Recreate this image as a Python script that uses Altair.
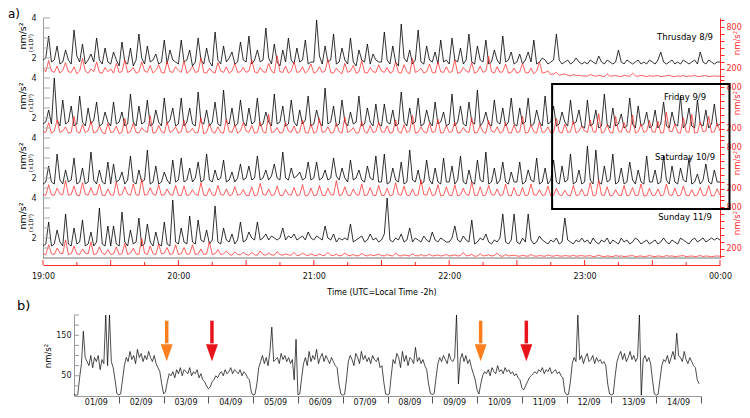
import altair as alt
import pandas as pd

FONT = "DejaVu Sans"

# ---------------- panel a : 1.25-minute samples, 19:00 -> 00:00 ----------------
thu_black = [
    1.9, 2.0, 3.1, 1.8, 1.9, 2.6, 1.7, 1.8, 2.4, 1.9, 1.7, 3.4, 2.1, 1.8, 2.7, 1.7, 1.9, 2.2, 1.8, 3.0, 1.9, 1.7, 2.5, 1.8,
    1.7, 2.3, 1.9, 1.6, 2.8, 1.8, 1.7, 2.5, 1.6, 1.9, 3.2, 2.0, 1.7, 2.6, 1.8, 1.9, 2.2, 1.7, 1.8, 2.9, 1.7, 2.4, 1.9, 1.8,
    1.7, 2.9, 1.8, 1.9, 2.4, 1.6, 1.8, 3.0, 1.9, 1.7, 2.5, 1.8, 1.6, 3.3, 1.9, 1.7, 2.6, 1.8, 2.0, 2.3, 1.7, 1.8, 2.8, 1.9,
    1.8, 3.1, 1.7, 1.9, 2.4, 1.8, 1.9, 3.5, 2.0, 1.7, 2.7, 1.8, 1.6, 2.4, 1.8, 3.0, 1.9, 1.7, 2.5, 1.8, 1.9, 2.9, 1.7, 1.8,
    1.8, 3.9, 2.1, 1.7, 2.6, 1.8, 1.9, 3.2, 1.7, 1.8, 2.5, 1.9, 1.7, 3.0, 1.8, 1.6, 2.4, 1.9, 1.8, 2.7, 1.7, 2.2, 1.9, 1.8,
    1.8, 3.3, 1.9, 1.7, 2.6, 1.8, 1.6, 3.7, 2.0, 1.8, 2.4, 1.7, 1.9, 3.4, 1.8, 1.7, 2.6, 1.9, 1.8, 2.3, 1.7, 2.9, 1.8, 1.9,
    1.7, 3.0, 1.9, 1.8, 2.5, 1.7, 1.9, 3.2, 1.8, 1.7, 2.6, 1.9, 1.8, 2.9, 1.7, 1.8, 2.4, 1.9, 1.7, 3.1, 1.8, 1.9, 2.3, 1.7,
    1.8, 2.2, 1.7, 1.9, 2.3, 1.8, 2.9, 1.7, 1.8, 2.0, 1.9, 1.7, 1.8, 1.9, 3.2, 1.9, 1.7, 1.8, 1.9, 1.7, 1.8, 2.0, 1.8, 1.7,
    1.8, 1.7, 1.9, 1.8, 1.7, 2.1, 1.8, 1.7, 1.9, 1.8, 1.7, 1.8, 2.4, 1.8, 1.7, 1.9, 1.8, 1.7, 1.8, 1.9, 1.7, 1.8, 1.7, 1.9,
    1.8, 1.7, 1.9, 2.3, 1.8, 1.7, 1.8, 1.9, 1.7, 1.8, 1.7, 1.9, 1.8, 1.7, 1.8, 1.9, 1.7, 2.3, 1.8, 1.7, 1.9, 1.8, 1.7, 1.8,
    1.8]
thu_red = [
    210, 160, 320, 170, 150, 240, 140, 180, 290, 160, 150, 230, 130, 170, 350, 170, 140, 200, 160, 300, 150, 140, 220, 160,
    200, 140, 280, 150, 160, 330, 150, 170, 220, 140, 160, 300, 170, 150, 250, 140, 180, 260, 150, 140, 310, 160, 150, 230,
    180, 150, 310, 140, 170, 240, 150, 160, 360, 150, 140, 210, 160, 140, 290, 170, 150, 230, 140, 170, 280, 150, 160, 220,
    150, 170, 330, 160, 140, 220, 160, 150, 280, 170, 140, 390, 160, 150, 240, 140, 170, 300, 150, 160, 230, 140, 180, 270,
    140, 160, 230, 150, 170, 340, 150, 140, 210, 160, 130, 280, 150, 170, 250, 140, 160, 320, 150, 140, 220, 160, 150, 260,
    170, 150, 220, 140, 160, 300, 150, 140, 260, 160, 130, 350, 150, 170, 210, 140, 160, 270, 150, 140, 300, 160, 150, 230,
    150, 160, 330, 140, 150, 220, 170, 150, 290, 140, 160, 240, 150, 170, 380, 160, 140, 230, 150, 160, 270, 140, 150, 210,
    140, 160, 280, 150, 140, 210, 130, 170, 300, 140, 150, 170, 120, 130, 150, 110, 120, 130, 110, 100, 120, 105, 110, 100,
    100, 95, 120, 105, 95, 110, 100, 90, 130, 95, 100, 105, 95, 90, 110, 100, 95, 140, 100, 95, 110, 100, 90, 105,
    95, 100, 105, 90, 95, 100, 110, 95, 90, 100, 95, 105, 90, 100, 95, 110, 90, 95, 100, 105, 90, 95, 100, 95,
    95]

fri_black = [
    1.7, 1.8, 2.4, 1.7, 4.0, 1.9, 1.6, 2.9, 1.7, 1.8, 2.6, 1.6, 1.7, 3.1, 1.8, 1.6, 2.5, 1.7, 1.9, 2.8, 1.6, 1.7, 2.3, 1.8,
    1.6, 2.8, 1.7, 1.8, 2.3, 1.6, 1.7, 3.2, 1.8, 1.6, 2.6, 1.7, 1.8, 2.9, 1.6, 1.7, 2.4, 1.8, 1.6, 3.0, 1.7, 1.9, 2.5, 1.6,
    1.7, 3.0, 1.6, 1.8, 2.5, 1.7, 1.6, 3.3, 1.8, 1.7, 2.4, 1.6, 1.8, 2.8, 1.7, 1.6, 3.4, 1.8, 1.7, 2.5, 1.6, 1.7, 2.9, 1.8,
    1.6, 2.5, 1.7, 1.8, 3.0, 1.6, 1.7, 2.3, 1.8, 1.6, 3.2, 1.7, 1.8, 2.6, 1.6, 1.7, 2.9, 1.8, 1.6, 2.4, 1.7, 1.9, 3.1, 1.6,
    1.7, 2.4, 1.8, 1.6, 3.5, 1.7, 1.8, 2.6, 1.6, 1.7, 2.9, 1.8, 1.6, 2.3, 1.7, 1.8, 3.1, 1.6, 1.7, 2.5, 1.8, 1.6, 2.7, 1.7,
    1.6, 2.7, 1.8, 1.7, 2.4, 1.6, 1.7, 3.3, 1.8, 1.6, 2.5, 1.7, 1.8, 3.0, 1.6, 1.7, 2.4, 1.8, 1.6, 2.8, 1.7, 1.8, 2.3, 1.6,
    1.7, 3.2, 1.6, 1.8, 2.6, 1.7, 1.6, 2.8, 1.8, 1.7, 3.4, 1.6, 1.8, 2.3, 1.7, 1.6, 2.9, 1.8, 1.7, 2.5, 1.6, 1.8, 3.0, 1.7,
    1.6, 2.5, 1.7, 1.8, 3.0, 1.6, 1.7, 2.4, 1.8, 1.6, 3.1, 1.7, 1.8, 2.6, 1.6, 1.7, 2.3, 1.8, 1.6, 2.9, 1.7, 1.8, 2.4, 1.6,
    1.5, 2.9, 1.6, 1.7, 2.4, 1.5, 1.6, 3.2, 1.7, 1.5, 2.5, 1.6, 1.7, 2.2, 1.5, 1.6, 3.0, 1.7, 1.5, 2.6, 1.6, 1.7, 2.3, 1.5,
    1.6, 2.4, 1.5, 1.7, 2.8, 1.6, 1.5, 2.3, 1.7, 1.6, 3.1, 1.5, 1.7, 2.5, 1.6, 1.5, 2.9, 1.7, 1.6, 2.4, 1.5, 1.7, 2.7, 1.6,
    1.7]
fri_red = [
    160, 150, 290, 140, 170, 330, 150, 170, 230, 140, 150, 380, 160, 140, 260, 150, 170, 310, 140, 160, 240, 150, 130, 280,
    150, 160, 240, 130, 150, 350, 140, 160, 280, 150, 140, 220, 170, 150, 390, 140, 150, 250, 160, 140, 300, 150, 170, 230,
    140, 160, 320, 150, 160, 210, 140, 150, 360, 130, 150, 270, 160, 140, 230, 150, 140, 340, 160, 150, 260, 140, 170, 290,
    170, 150, 250, 140, 150, 300, 160, 140, 410, 150, 160, 220, 140, 150, 290, 170, 150, 240, 140, 160, 330, 150, 140, 270,
    140, 160, 350, 150, 160, 230, 140, 150, 280, 160, 140, 370, 150, 170, 220, 140, 150, 310, 160, 140, 250, 150, 160, 300,
    160, 150, 240, 140, 150, 330, 160, 140, 260, 150, 170, 390, 140, 150, 230, 160, 140, 280, 150, 160, 340, 140, 150, 250,
    150, 160, 300, 140, 150, 220, 160, 150, 360, 140, 150, 250, 160, 140, 320, 170, 150, 230, 140, 160, 290, 150, 140, 260,
    150, 160, 380, 140, 150, 260, 160, 140, 300, 150, 160, 230, 140, 150, 350, 160, 140, 270, 150, 160, 310, 140, 170, 240,
    170, 150, 330, 160, 150, 420, 140, 160, 260, 150, 140, 380, 170, 150, 290, 160, 150, 400, 140, 160, 270, 150, 170, 320,
    160, 150, 310, 140, 150, 440, 170, 160, 270, 150, 140, 360, 160, 150, 410, 140, 150, 300, 160, 170, 380, 150, 160, 280,
    170]

sat_black = [
    1.7, 1.8, 2.6, 1.8, 1.7, 3.2, 1.9, 1.7, 2.4, 1.8, 1.9, 3.0, 1.7, 1.8, 2.5, 1.7, 1.8, 3.3, 1.9, 1.7, 2.4, 1.8, 1.7, 2.8,
    1.7, 2.7, 1.8, 1.9, 2.3, 1.7, 1.9, 3.1, 1.8, 1.7, 2.4, 1.8, 1.9, 3.4, 1.7, 1.8, 2.6, 1.7, 1.8, 2.3, 1.9, 1.7, 2.9, 1.8,
    1.9, 3.0, 1.8, 1.9, 2.5, 1.8, 2.0, 2.8, 1.8, 1.9, 3.2, 1.9, 1.8, 2.4, 1.9, 2.0, 2.9, 1.8, 1.9, 2.3, 1.8, 2.0, 2.7, 1.9,
    2.0, 2.6, 1.9, 2.0, 3.1, 1.9, 2.0, 2.4, 1.9, 2.1, 2.7, 2.0, 1.9, 3.3, 2.0, 1.9, 2.5, 2.0, 2.1, 2.3, 1.9, 2.0, 2.8, 1.9,
    2.0, 2.8, 1.9, 2.0, 2.4, 1.9, 2.0, 3.0, 2.1, 1.9, 2.5, 2.0, 1.8, 2.9, 1.9, 2.0, 2.4, 1.9, 1.8, 2.6, 2.0, 1.9, 3.1, 1.8,
    1.8, 3.2, 1.7, 1.8, 2.5, 1.9, 1.8, 2.8, 1.7, 1.8, 3.4, 1.9, 1.8, 2.4, 1.7, 1.8, 2.9, 1.9, 1.7, 2.5, 1.8, 1.7, 3.0, 1.8,
    1.8, 2.6, 1.7, 1.9, 3.1, 1.8, 1.7, 2.4, 1.8, 1.7, 2.9, 1.9, 1.8, 3.3, 1.7, 1.8, 2.5, 1.7, 1.9, 2.8, 1.8, 1.7, 2.3, 1.8,
    1.8, 2.8, 1.7, 1.8, 2.4, 1.9, 1.8, 3.0, 1.7, 1.8, 2.5, 1.7, 1.9, 2.9, 1.8, 1.7, 2.6, 1.8, 1.9, 3.2, 1.7, 1.8, 2.4, 1.7,
    1.8, 3.6, 1.9, 1.7, 3.4, 1.8, 1.7, 2.6, 1.8, 1.9, 3.2, 1.7, 1.8, 2.5, 1.7, 1.8, 2.8, 1.9, 1.7, 2.4, 1.8, 1.7, 3.1, 1.8,
    1.8, 2.4, 1.7, 1.8, 3.1, 1.9, 1.7, 2.6, 1.8, 1.7, 2.5, 1.9, 1.8, 3.0, 1.7, 1.8, 2.2, 1.7, 1.9, 2.7, 1.8, 1.7, 2.4, 1.8,
    1.8]
sat_red = [
    120, 110, 260, 115, 110, 210, 130, 115, 320, 110, 120, 240, 110, 105, 290, 125, 110, 220, 115, 120, 270, 110, 105, 200,
    115, 110, 300, 110, 120, 230, 125, 110, 270, 115, 110, 340, 110, 120, 220, 125, 110, 260, 110, 115, 200, 120, 110, 250,
    110, 105, 240, 105, 115, 190, 120, 110, 290, 110, 105, 210, 115, 105, 250, 120, 110, 200, 105, 115, 230, 110, 120, 190,
    110, 105, 230, 100, 115, 280, 120, 110, 200, 105, 115, 240, 110, 105, 190, 120, 110, 220, 105, 115, 260, 100, 110, 210,
    105, 110, 250, 110, 105, 210, 120, 110, 320, 105, 115, 230, 110, 105, 200, 120, 110, 270, 105, 115, 220, 110, 105, 250,
    110, 105, 210, 100, 115, 290, 120, 110, 240, 110, 105, 200, 105, 115, 330, 120, 110, 220, 105, 115, 260, 100, 110, 230,
    110, 105, 260, 100, 115, 210, 120, 110, 300, 110, 105, 230, 100, 115, 250, 120, 110, 200, 105, 115, 270, 110, 100, 220,
    110, 105, 220, 100, 115, 270, 115, 110, 190, 105, 115, 240, 100, 110, 210, 115, 105, 180, 110, 100, 250, 105, 115, 200,
    105, 110, 290, 100, 115, 330, 115, 105, 230, 100, 110, 190, 110, 105, 250, 100, 115, 220, 105, 110, 270, 100, 105, 210,
    105, 110, 200, 100, 115, 270, 115, 105, 210, 100, 110, 240, 110, 100, 190, 100, 115, 220, 105, 110, 250, 100, 105, 200,
    110]

sun_black = [
    1.6, 1.7, 2.8, 1.6, 1.7, 2.4, 1.8, 1.6, 3.2, 1.7, 1.6, 2.5, 1.7, 1.8, 2.9, 1.6, 1.7, 2.3, 1.6, 1.8, 3.5, 1.7, 1.6, 2.6,
    1.6, 2.6, 1.7, 1.6, 3.3, 1.8, 1.6, 2.4, 1.7, 1.8, 3.0, 1.6, 1.7, 2.7, 1.8, 1.6, 2.3, 1.7, 1.6, 2.8, 1.7, 1.6, 3.9, 1.8,
    1.7, 2.5, 1.8, 1.7, 3.1, 1.8, 1.7, 2.9, 1.9, 1.8, 2.4, 1.7, 1.9, 3.6, 1.8, 1.7, 2.5, 1.9, 1.8, 2.2, 1.7, 1.9, 2.8, 1.8,
    1.9, 2.3, 2.0, 1.9, 2.8, 1.9, 2.0, 2.2, 1.9, 2.1, 2.0, 1.9, 2.0, 2.5, 1.9, 2.1, 2.0, 2.2, 1.9, 2.0, 2.1, 1.9, 2.3, 2.0,
    1.9, 2.1, 2.0, 1.9, 2.6, 2.0, 1.9, 2.2, 1.8, 2.0, 1.9, 2.0, 1.9, 2.7, 1.8, 1.9, 2.0, 2.1, 1.8, 1.9, 2.2, 1.9, 2.0, 1.8,
    1.9, 2.2, 4.0, 1.9, 1.8, 2.0, 1.9, 2.2, 1.8, 1.9, 2.5, 1.8, 2.0, 1.9, 1.8, 2.1, 1.9, 1.8, 2.3, 1.9, 1.8, 2.0, 1.9, 1.8,
    1.8, 2.0, 2.6, 1.9, 1.8, 2.1, 1.9, 1.8, 2.9, 1.7, 1.8, 2.0, 1.9, 2.2, 1.8, 1.7, 1.9, 1.8, 2.0, 3.2, 1.8, 1.7, 1.9, 3.2,
    1.8, 1.7, 2.0, 1.8, 3.2, 1.9, 1.7, 1.8, 2.1, 1.9, 1.8, 1.7, 1.9, 1.8, 2.0, 1.7, 1.8, 3.0, 1.9, 1.8, 1.7, 1.9, 1.8, 2.0,
    1.8, 1.9, 1.7, 2.0, 1.8, 1.7, 1.9, 1.8, 2.0, 1.7, 1.9, 1.8, 1.7, 2.0, 1.8, 1.9, 1.7, 1.8, 2.0, 1.9, 1.7, 1.8, 1.9, 1.7,
    1.8, 1.9, 1.7, 1.8, 2.0, 1.8, 1.7, 1.9, 1.8, 1.7, 2.0, 1.9, 1.8, 1.7, 1.9, 2.0, 1.8, 1.9, 2.0, 1.8, 1.9, 2.0, 1.9, 2.0,
    1.9]
sun_red = [
    130, 120, 260, 130, 120, 210, 140, 130, 330, 120, 130, 240, 130, 120, 200, 140, 130, 300, 120, 130, 230, 140, 120, 190,
    120, 130, 230, 120, 130, 280, 120, 140, 210, 130, 120, 350, 140, 120, 240, 130, 120, 270, 130, 140, 220, 120, 130, 260,
    120, 130, 220, 120, 130, 260, 120, 130, 200, 120, 130, 300, 120, 130, 190, 120, 130, 170, 120, 110, 160, 120, 115, 150,
    120, 110, 150, 115, 110, 170, 120, 110, 140, 115, 110, 160, 120, 110, 130, 115, 110, 150, 105, 110, 140, 115, 105, 130,
    110, 105, 130, 105, 110, 150, 110, 105, 125, 100, 110, 140, 110, 105, 120, 100, 105, 135, 110, 100, 120, 105, 110, 125,
    105, 100, 120, 105, 100, 140, 105, 100, 115, 105, 100, 130, 105, 100, 120, 100, 105, 125, 100, 105, 115, 100, 105, 120,
    100, 105, 115, 100, 105, 150, 100, 105, 120, 95, 100, 130, 100, 105, 115, 100, 105, 140, 100, 95, 120, 100, 105, 110,
    100, 95, 110, 100, 95, 120, 100, 95, 105, 100, 95, 115, 100, 95, 110, 100, 95, 105, 100, 95, 110, 95, 100, 105,
    95, 100, 105, 90, 95, 110, 95, 90, 100, 95, 90, 105, 95, 100, 90, 95, 100, 105, 90, 95, 100, 90, 95, 105,
    95, 90, 100, 95, 90, 105, 95, 100, 90, 95, 100, 105, 90, 95, 100, 90, 95, 105, 90, 100, 95, 90, 95, 100,
    95]

day_names = ["Thrusday 8/9", "Friday 9/9", "Saturday 10/9", "Sunday 11/9"]
time_ticks_major = [19, 19.5, 20, 20.5, 21, 21.5, 22, 22.5, 23, 23.5, 24]
time_ticks_minor = [19.25, 19.75, 20.25, 20.75, 21.25, 21.75, 22.25, 22.75, 23.25, 23.75]
left_ticks = [1.5, 2, 2.5, 3, 3.5, 4]
box_hours = [22.76, 24.07]

# ---------------- panel b : hourly samples, 01/09 -> 14/09 ----------------
b_days = [
    [4, 2, 3, 45, 80, 160, 95, 85, 75, 100, 70, 95, 85, 100, 65, 90, 80, 200, 75, 200, 85, 70, 40, 6],
    [3, 5, 40, 75, 95, 85, 110, 90, 100, 80, 115, 95, 105, 85, 100, 90, 110, 95, 85, 100, 80, 70, 60, 30],
    [5, 10, 35, 55, 50, 60, 45, 65, 55, 70, 50, 65, 60, 55, 70, 50, 60, 55, 65, 45, 55, 40, 35, 25],
    [18, 22, 35, 40, 50, 45, 55, 60, 50, 65, 55, 60, 70, 55, 65, 60, 55, 65, 50, 60, 55, 45, 40, 10],
    [2, 4, 30, 70, 85, 100, 80, 95, 75, 110, 170, 85, 90, 95, 80, 105, 90, 100, 85, 95, 80, 90, 40, 140],
    [3, 5, 45, 80, 95, 75, 110, 85, 100, 90, 115, 80, 95, 105, 85, 100, 90, 80, 95, 85, 75, 70, 30, 5],
    [2, 4, 40, 85, 100, 90, 75, 105, 95, 80, 110, 90, 100, 85, 95, 80, 100, 90, 85, 95, 70, 75, 35, 5],
    [3, 5, 50, 90, 80, 105, 95, 70, 110, 85, 100, 75, 95, 90, 80, 120, 85, 95, 80, 90, 75, 65, 30, 6],
    [4, 6, 45, 80, 95, 85, 100, 90, 80, 105, 90, 85, 95, 200, 30, 90, 105, 85, 100, 80, 90, 70, 55, 40],
    [15, 5, 30, 50, 60, 55, 65, 50, 70, 60, 55, 75, 60, 65, 55, 70, 60, 65, 55, 60, 50, 55, 45, 40],
    [20, 15, 25, 35, 45, 50, 55, 60, 55, 65, 60, 70, 55, 65, 60, 70, 55, 60, 65, 55, 60, 50, 45, 10],
    [3, 4, 35, 80, 95, 85, 200, 90, 100, 80, 95, 105, 85, 90, 100, 80, 95, 85, 90, 80, 85, 75, 30, 5],
    [3, 5, 50, 85, 100, 110, 90, 105, 85, 95, 110, 90, 100, 85, 95, 200, 2, 90, 100, 85, 95, 80, 40, 5],
    [2, 4, 40, 75, 90, 85, 100, 80, 95, 110, 90, 155, 100, 95, 85, 110, 90, 80, 95, 85, 75, 70, 40, 30],
]
day_labels = ["01/09", "02/09", "03/09", "04/09", "05/09", "06/09", "07/09",
              "08/09", "09/09", "10/09", "11/09", "12/09", "13/09", "14/09"]
b_left_ticks = [25, 50, 75, 100, 125, 150, 175, 200]
arrow_days = [3.07, 4.08, 10.08, 11.1]
arrow_colors = ["#ff7f1e", "#e8141c", "#ff7f1e", "#e8141c"]
arrow_top, arrow_bottom, arrow_head = 186, 130, 107

# ---------------- layout ----------------
W, H, P = 677, 378, 60
B_TOP = 297
RED = "#ff2a2a"


def series_df(vals):
    n = len(vals)
    return pd.DataFrame({"t": [19 + 5 * i / (n - 1) for i in range(n)], "v": vals})


rows = []
for k, vals in enumerate(b_days):
    for h, v in enumerate(vals):
        rows.append({"d": k + 1 + h / 24, "v": v})
df_b = pd.DataFrame(rows)


def top_x(field="t", axis=None):
    return alt.X(f"{field}:Q", scale=alt.Scale(domain=[19, 24], range=[0, W], nice=False, zero=False), axis=axis)


def b_x(field, axis=None):
    return alt.X(f"{field}:Q", scale=alt.Scale(domain=[1, 15], range=[31, 658], nice=False, zero=False), axis=axis)


def b_y(field, axis=None):
    return alt.Y(f"{field}:Q", scale=alt.Scale(domain=[0, 200], range=[H, B_TOP], nice=False, zero=False), axis=axis)


def text(txt, x, y, size=8, color="black", angle=0, align="center"):
    return alt.Chart(pd.DataFrame({"s": [txt]})).mark_text(
        fontSize=size, color=color, angle=angle, align=align, baseline="middle", font=FONT
    ).encode(text="s:N", x=alt.value(x), y=alt.value(y))


layers = []
series = [(thu_black, thu_red), (fri_black, fri_red), (sat_black, sat_red), (sun_black, sun_red)]
for k, (blk, red) in enumerate(series):
    top = k * P
    bys = alt.Scale(domain=[1, 4], range=[top + P, top], nice=False, zero=False)
    rys = alt.Scale(domain=[70, 930], range=[top + P, top], nice=False, zero=False)
    layers.append(alt.Chart(series_df(blk)).mark_line(color="black", strokeWidth=0.8).encode(
        x=top_x(),
        y=alt.Y("v:Q", scale=bys, axis=alt.Axis(
            orient="left", values=[2, 4], ticks=False, tickSize=0, domainColor="#9a9a9a",
            labelColor="#222", labelFontSize=8, labelPadding=7, labelOverlap=False,
            title=None, grid=False)),
    ))
    layers.append(alt.Chart(series_df(red)).mark_line(color=RED, strokeWidth=0.75).encode(
        x=top_x(),
        y=alt.Y("v:Q", scale=rys, axis=alt.Axis(
            orient="right", values=list(range(100, 901, 100)), tickSize=4, tickColor=RED,
            domainColor=RED, labelColor=RED, labelFontSize=8, labelPadding=2, labelOverlap=False,
            labelExpr="(datum.value == 200 || datum.value == 800) ? datum.value : ''",
            title=None, grid=False)),
    ))
    layers.append(alt.Chart(pd.DataFrame({"v": left_ticks})).mark_rule(color="#aaaaaa", strokeWidth=1).encode(
        x=alt.value(0), x2=alt.value(7),
        y=alt.Y("v:Q", scale=bys, axis=None),
    ))
    layers.append(text("nm/s²", -20, top + 18, size=9.5, angle=270))
    layers.append(text("(x10⁵)", -12, top + 25, size=6, angle=270))
    layers.append(text("nm/s²", 694, top + 25, size=8.5, color=RED, angle=270))
    layers.append(text(day_names[k], 642, top + 19, size=8.5))

# bottom line of the four stacked panels
layers.append(alt.Chart(pd.DataFrame({"a": [0]})).mark_rule(color="#777777", strokeWidth=1).encode(
    x=alt.value(0), x2=alt.value(W), y=alt.value(240)))

# time axis (red) with upward ticks
layers.append(alt.Chart(pd.DataFrame({"v": time_ticks_major})).mark_rule(color=RED, strokeWidth=1).encode(
    x=top_x("v", axis=alt.Axis(
        orient="bottom", offset=-(H - 247), values=[19, 20, 21, 22, 23, 24], ticks=False, tickSize=0,
        domainColor=RED, labelColor="#111", labelFontSize=8, labelPadding=7, labelFlush=False,
        labelExpr="(datum.value % 24 < 10 ? '0' : '') + (datum.value % 24) + ':00'",
        title="Time (UTC=Local Time  -2h)", titleFontSize=8, titleFontWeight="normal",
        titlePadding=8, grid=False)),
    y=alt.value(242), y2=alt.value(247)))
layers.append(alt.Chart(pd.DataFrame({"v": time_ticks_minor})).mark_rule(color=RED, strokeWidth=1).encode(
    x=top_x("v"), y=alt.value(244), y2=alt.value(247)))

# highlight box over Friday / Saturday
layers.append(alt.Chart(pd.DataFrame({"x0": [box_hours[0]], "x1": [box_hours[1]]})).mark_rect(
    fillOpacity=0, stroke="black", strokeWidth=2).encode(
    x=top_x("x0"), x2="x1:Q", y=alt.value(66), y2=alt.value(191)))

layers.append(text("a)", -35, -4, size=12, align="left"))

# ---------------- panel b ----------------
layers.append(alt.Chart(df_b).mark_line(color="black", strokeWidth=0.7).encode(
    x=b_x("d", axis=alt.Axis(orient="bottom", values=list(range(2, 16)), labels=False,
                             tickSize=7, tickColor="#555555", domainColor="#999999",
                             title=None, grid=False)),
    y=b_y("v", axis=alt.Axis(orient="left", offset=-31, values=[50, 150], ticks=False, tickSize=0,
                             domainColor="#999999", labelColor="#222", labelFontSize=8,
                             labelPadding=3, labelOverlap=False, title="nm/s²", titleFontSize=8.5,
                             titleFontWeight="normal", titlePadding=3, grid=False)),
))
layers.append(alt.Chart(pd.DataFrame({"v": b_left_ticks})).mark_rule(color="#999999", strokeWidth=1).encode(
    x=alt.value(31), x2=alt.value(36), y=b_y("v")))
layers.append(alt.Chart(pd.DataFrame({"p": [i + 1.5 for i in range(14)], "s": day_labels})).mark_text(
    fontSize=8, font=FONT, color="#111", baseline="middle").encode(
    x=b_x("p"), y=alt.value(H + 7), text="s:N"))

df_arrow = pd.DataFrame({"x": arrow_days, "c": arrow_colors,
                         "y1": [arrow_top] * 4, "y2": [arrow_bottom] * 4, "yh": [arrow_head] * 4})
layers.append(alt.Chart(df_arrow).mark_rule(strokeWidth=3.5).encode(
    x=b_x("x"), y=b_y("y1"), y2="y2:Q", color=alt.Color("c:N", scale=None)))
layers.append(alt.Chart(df_arrow).mark_point(
    shape="M-0.7,-1L0.7,-1L0,1Z", filled=True, size=289, opacity=1, strokeWidth=0).encode(
    x=b_x("x"), y=b_y("yh"), color=alt.Color("c:N", scale=None)))

layers.append(text("b)", -26, 288, size=13, align="left"))

chart = alt.layer(*layers).resolve_scale(x="independent", y="independent").properties(
    width=W, height=H, background="white", padding=0
).configure_view(strokeWidth=0).configure_axis(
    grid=False, labelFont=FONT, titleFont=FONT
)

chart.save("out.html", embed_options={"renderer": "svg", "actions": False})
